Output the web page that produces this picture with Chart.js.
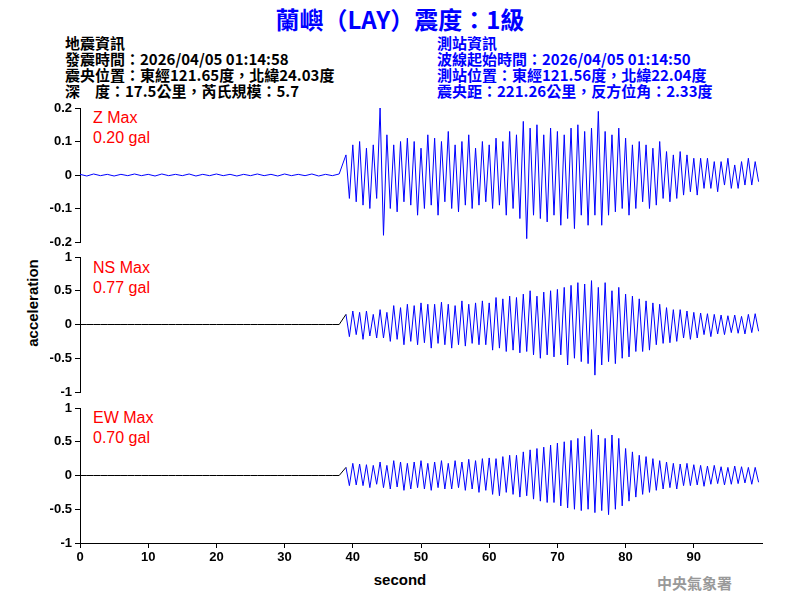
<!DOCTYPE html>
<html><head><meta charset="utf-8">
<script src="https://cdn.jsdelivr.net/npm/chart.js@4"></script>
<style>
body{margin:0;width:800px;height:600px;background:#fff;position:relative;overflow:hidden;font-family:Arial,"Liberation Sans",sans-serif}
canvas{position:absolute;left:0;top:0}
.t{position:absolute;white-space:nowrap}
.hd{font:bold 15px "Noto Sans CJK TC",sans-serif;line-height:16px}
.red{color:#f00;font:16px Arial,"Liberation Sans";line-height:20px}
</style></head><body>
<div class="t" style="left:0;width:800px;top:1px;text-align:center;color:#0000ff;font:bold 24px 'Noto Sans CJK TC';">蘭嶼（LAY）震度：1級</div>
<div class="t hd" style="left:65px;top:35px;color:#000">地震資訊<br>發震時間：2026/04/05 01:14:58<br>震央位置：東經121.65度，北緯24.03度<br>深　度：17.5公里，芮氏規模：5.7</div>
<div class="t hd" style="left:437px;top:35px;color:#0000ff">測站資訊<br>波線起始時間：2026/04/05 01:14:50<br>測站位置：東經121.56度，北緯22.04度<br>震央距：221.26公里，反方位角：2.33度</div>
<div class="t red" style="left:93px;top:108px">Z Max<br>0.20 gal</div>
<div class="t red" style="left:93px;top:258px">NS Max<br>0.77 gal</div>
<div class="t red" style="left:93px;top:408px">EW Max<br>0.70 gal</div>
<div class="t" style="left:32px;top:303px;transform:translate(-50%,-50%) rotate(-90deg);font:bold 15px Arial">acceleration</div>
<div class="t" style="left:400px;top:571px;transform:translateX(-50%);font:bold 15px Arial">second</div>
<div class="t" style="left:657px;top:572px;color:#999;font:bold 15px 'Noto Sans CJK TC'">中央氣象署</div>
<canvas id="c1" width="800" height="600"></canvas>
<canvas id="c2" width="800" height="600"></canvas>
<canvas id="c3" width="800" height="600"></canvas>
<script>
// quiet part: samples every 1 s from 0 to 38 s
const quietStart = 0, quietStep = 1;
const quietZ = [0.002,-0.003,0.003,-0.002,0.002,-0.003,0.002,-0.002,0.003,-0.002,0.002,-0.003,0.003,-0.002,0.002,-0.002,0.003,-0.003,0.002,-0.002,0.003,-0.002,0.002,-0.003,0.002,-0.002,0.003,-0.002,0.002,-0.003,0.003,-0.002,0.002,-0.002,0.003,-0.003,0.002,-0.002,0.003];
const quietNS = [0,0,0,0,0,0,0,0,0,0,0,0,0,0,0,0,0,0,0,0,0,0,0,0,0,0,0,0,0,0,0,0,0,0,0,0,0,0,0];
const quietEW = [0,0,0,0,0,0,0,0,0,0,0,0,0,0,0,0,0,0,0,0,0,0,0,0,0,0,0,0,0,0,0,0,0,0,0,0,0,0,0];
// active part: samples every 0.5 s from 39 s
const activeStart = 39, activeStep = 0.5;
const activeZ = [0.06,-0.07,0.09,-0.08,0.1,-0.09,0.08,-0.1,0.09,-0.07,
0.2,-0.18,0.12,-0.1,0.09,-0.11,0.1,-0.08,0.11,-0.09,
0.1,-0.12,0.08,-0.1,0.12,-0.09,0.11,-0.12,0.1,-0.08,
0.13,-0.1,0.09,-0.11,0.1,-0.09,0.12,-0.1,0.08,-0.09,
0.1,-0.08,0.09,-0.1,0.11,-0.09,0.1,-0.12,0.13,-0.1,
0.12,-0.13,0.16,-0.19,0.14,-0.12,0.15,-0.13,0.12,-0.14,
0.14,-0.12,0.13,-0.15,0.12,-0.13,0.14,-0.16,0.15,-0.12,
0.13,-0.15,0.14,-0.12,0.19,-0.15,0.13,-0.12,0.12,-0.11,
0.14,-0.1,0.11,-0.12,0.09,-0.1,0.1,-0.08,0.09,-0.1,
0.08,-0.09,0.1,-0.07,0.07,-0.08,0.06,-0.07,0.07,-0.06,
0.06,-0.05,0.05,-0.06,0.05,-0.04,0.05,-0.04,0.04,-0.05,
0.04,-0.03,0.05,-0.04,0.03,-0.04,0.04,-0.03,0.05,-0.03,0.04,-0.02];
const activeNS = [0.15,-0.18,0.2,-0.15,0.18,-0.22,0.2,-0.17,0.15,-0.2,
0.22,-0.2,0.18,-0.25,0.28,-0.22,0.25,-0.3,0.3,-0.25,
0.28,-0.3,0.32,-0.27,0.3,-0.35,0.3,-0.28,0.33,-0.3,
0.3,-0.35,0.28,-0.3,0.35,-0.32,0.3,-0.28,0.32,-0.3,
0.35,-0.3,0.32,-0.38,0.4,-0.35,0.38,-0.4,0.42,-0.38,
0.4,-0.42,0.45,-0.4,0.5,-0.45,0.42,-0.5,0.48,-0.45,
0.5,-0.48,0.52,-0.45,0.55,-0.6,0.58,-0.5,0.62,-0.55,
0.6,-0.58,0.65,-0.75,0.55,-0.6,0.62,-0.55,0.5,-0.58,
0.55,-0.5,0.45,-0.48,0.42,-0.4,0.38,-0.4,0.35,-0.38,
0.32,-0.3,0.3,-0.28,0.25,-0.27,0.22,-0.25,0.22,-0.2,
0.2,-0.22,0.18,-0.2,0.17,-0.15,0.16,-0.18,0.15,-0.14,
0.14,-0.15,0.13,-0.12,0.14,-0.13,0.12,-0.14,0.15,-0.12,0.16,-0.1];
const activeEW = [0.12,-0.15,0.18,-0.14,0.17,-0.15,0.16,-0.18,0.15,-0.13,
0.2,-0.18,0.15,-0.2,0.22,-0.17,0.2,-0.22,0.18,-0.2,
0.2,-0.18,0.22,-0.2,0.18,-0.22,0.2,-0.18,0.22,-0.2,
0.18,-0.2,0.22,-0.18,0.2,-0.22,0.24,-0.2,0.22,-0.25,
0.25,-0.22,0.26,-0.28,0.25,-0.3,0.28,-0.25,0.3,-0.28,
0.3,-0.32,0.35,-0.3,0.38,-0.35,0.4,-0.38,0.42,-0.4,
0.45,-0.4,0.48,-0.45,0.5,-0.48,0.52,-0.5,0.55,-0.52,
0.58,-0.5,0.68,-0.55,0.6,-0.52,0.55,-0.58,0.6,-0.5,
0.55,-0.45,0.4,-0.38,0.35,-0.32,0.3,-0.28,0.28,-0.25,
0.25,-0.22,0.22,-0.2,0.2,-0.18,0.18,-0.2,0.17,-0.15,
0.18,-0.15,0.16,-0.14,0.15,-0.16,0.14,-0.13,0.15,-0.12,
0.13,-0.14,0.12,-0.13,0.14,-0.12,0.13,-0.11,0.12,-0.13,0.12,-0.1];
const zTicks = [-0.2,-0.1,0,0.1,0.2];
const hTicks = [-1,-0.5,0,0.5,1];
const xTicks = [0,10,20,30,40,50,60,70,80,90];

function pts(arr,start,step){return arr.map((v,i)=>({x:start+i*step,y:v}));}
const font={family:'Arial',size:13,weight:'bold'};
function make(id,quiet,active,quietColor,yt,top,bottomPad,showX){
  const ymax=yt[yt.length-1];
  new Chart(document.getElementById(id),{type:'line',
    data:{datasets:[
      {data:pts(quiet,quietStart,quietStep).concat([{x:activeStart,y:active[0]}]),borderColor:quietColor,borderWidth:1,pointRadius:0,tension:0},
      {data:pts(active,activeStart,activeStep),borderColor:'#0000ff',borderWidth:1,pointRadius:0,tension:0}]},
    options:{responsive:false,animation:false,events:[],
      layout:{padding:{left:20,right:38,top:top,bottom:bottomPad}},
      plugins:{legend:{display:false},tooltip:{enabled:false}},
      scales:{
        x:{type:'linear',min:0,max:100,display:showX,
           afterBuildTicks:s=>{s.ticks=xTicks.map(v=>({value:v}));},
           afterFit:s=>{s.height=showX?22:0;},
           ticks:{color:'#000',font:font,padding:2},
           grid:{drawOnChartArea:false,color:'#000',tickLength:5},border:{color:'#000'}},
        y:{min:-ymax,max:ymax,
           afterBuildTicks:s=>{s.ticks=yt.map(v=>({value:v}));},
           afterFit:s=>{s.width=60;},
           ticks:{color:'#000',font:font,padding:3,callback:v=>String(v)},
           grid:{drawOnChartArea:false,color:'#000',tickLength:5},border:{color:'#000'}}
      }}});
}
make('c1',quietZ,activeZ,'#0000ff',zTicks,108,600-242,false);
make('c2',quietNS,activeNS,'#000000',hTicks,257,600-392,false);
make('c3',quietEW,activeEW,'#000000',hTicks,408,600-543-22,true);
</script></body></html>
